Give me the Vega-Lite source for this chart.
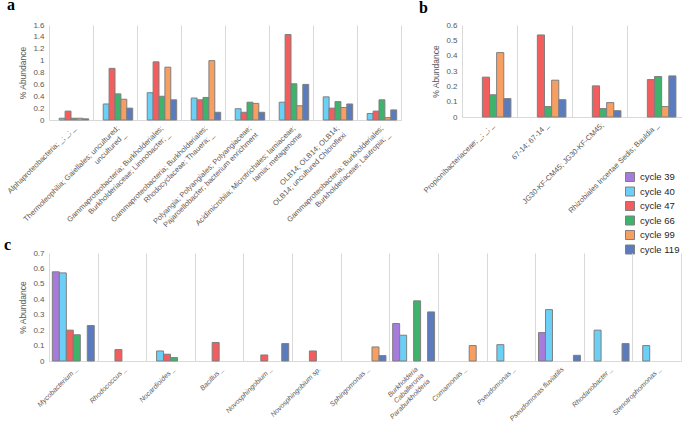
{
  "$schema": "https://vega.github.io/schema/vega-lite/v6.json",
  "padding": {"left": 4, "top": -3, "right": 0, "bottom": 0},
  "bounds": "flush",
  "spacing": 228,
  "resolve": {"scale": {"color": "independent", "xOffset": "independent"}, "legend": {"color": "independent"}},
  "config": {
    "font": "Liberation Sans",
    "view": {"stroke": null},
    "axis": {"labelColor": "#595959", "labelFontSize": 7.5, "titleColor": "#595959", "titleFontSize": 8.5, "titleFontWeight": "normal", "labelFont": "Liberation Sans", "titleFont": "Liberation Sans"},
    "axisX": {"domainColor": "#d9d9d9", "gridColor": "#d9d9d9", "grid": true, "ticks": false, "tickBand": "extent", "labelAngle": -45, "labelAlign": "right", "labelBaseline": "top", "labelLimit": 400, "labelOverlap": false, "labelPadding": 4, "labelLineHeight": 9.5, "title": null},
    "axisY": {"domain": false, "ticks": false, "grid": false, "labelPadding": 5, "titlePadding": 5, "labelFontSize": 8}
  },
  "datasets": {
    "a": [
      {"cat": "Alphaproteobacteria; _; _; _", "cycle": "cycle 40", "v": 0.03},
      {"cat": "Alphaproteobacteria; _; _; _", "cycle": "cycle 47", "v": 0.15},
      {"cat": "Alphaproteobacteria; _; _; _", "cycle": "cycle 66", "v": 0.03},
      {"cat": "Alphaproteobacteria; _; _; _", "cycle": "cycle 99", "v": 0.03},
      {"cat": "Alphaproteobacteria; _; _; _", "cycle": "cycle 119", "v": 0.02},
      {"cat": "Thermoleophilia; Gaiellales; uncultured;|uncultured _", "cycle": "cycle 40", "v": 0.27},
      {"cat": "Thermoleophilia; Gaiellales; uncultured;|uncultured _", "cycle": "cycle 47", "v": 0.87},
      {"cat": "Thermoleophilia; Gaiellales; uncultured;|uncultured _", "cycle": "cycle 66", "v": 0.44},
      {"cat": "Thermoleophilia; Gaiellales; uncultured;|uncultured _", "cycle": "cycle 99", "v": 0.35},
      {"cat": "Thermoleophilia; Gaiellales; uncultured;|uncultured _", "cycle": "cycle 119", "v": 0.20},
      {"cat": "Gammaproteobacteria; Burkholderiales;|Burkholderiaceae; Limnobacter; _", "cycle": "cycle 40", "v": 0.46},
      {"cat": "Gammaproteobacteria; Burkholderiales;|Burkholderiaceae; Limnobacter; _", "cycle": "cycle 47", "v": 0.98},
      {"cat": "Gammaproteobacteria; Burkholderiales;|Burkholderiaceae; Limnobacter; _", "cycle": "cycle 66", "v": 0.40},
      {"cat": "Gammaproteobacteria; Burkholderiales;|Burkholderiaceae; Limnobacter; _", "cycle": "cycle 99", "v": 0.89},
      {"cat": "Gammaproteobacteria; Burkholderiales;|Burkholderiaceae; Limnobacter; _", "cycle": "cycle 119", "v": 0.34},
      {"cat": "Gammaproteobacteria; Burkholderiales;|Rhodocyclaceae; Thauera; _", "cycle": "cycle 40", "v": 0.37},
      {"cat": "Gammaproteobacteria; Burkholderiales;|Rhodocyclaceae; Thauera; _", "cycle": "cycle 47", "v": 0.34},
      {"cat": "Gammaproteobacteria; Burkholderiales;|Rhodocyclaceae; Thauera; _", "cycle": "cycle 66", "v": 0.38},
      {"cat": "Gammaproteobacteria; Burkholderiales;|Rhodocyclaceae; Thauera; _", "cycle": "cycle 99", "v": 1.0},
      {"cat": "Gammaproteobacteria; Burkholderiales;|Rhodocyclaceae; Thauera; _", "cycle": "cycle 119", "v": 0.13},
      {"cat": "Polyangia; Polyangiales; Polyangiaceae;|Pajaroellobacter; bacterium enrichment", "cycle": "cycle 40", "v": 0.19},
      {"cat": "Polyangia; Polyangiales; Polyangiaceae;|Pajaroellobacter; bacterium enrichment", "cycle": "cycle 47", "v": 0.13},
      {"cat": "Polyangia; Polyangiales; Polyangiaceae;|Pajaroellobacter; bacterium enrichment", "cycle": "cycle 66", "v": 0.30},
      {"cat": "Polyangia; Polyangiales; Polyangiaceae;|Pajaroellobacter; bacterium enrichment", "cycle": "cycle 99", "v": 0.28},
      {"cat": "Polyangia; Polyangiales; Polyangiaceae;|Pajaroellobacter; bacterium enrichment", "cycle": "cycle 119", "v": 0.13},
      {"cat": "Acidimicrobiia; Microtrichales; Iamiaceae;|Iamia; metagenome", "cycle": "cycle 40", "v": 0.30},
      {"cat": "Acidimicrobiia; Microtrichales; Iamiaceae;|Iamia; metagenome", "cycle": "cycle 47", "v": 1.44},
      {"cat": "Acidimicrobiia; Microtrichales; Iamiaceae;|Iamia; metagenome", "cycle": "cycle 66", "v": 0.61},
      {"cat": "Acidimicrobiia; Microtrichales; Iamiaceae;|Iamia; metagenome", "cycle": "cycle 99", "v": 0.24},
      {"cat": "Acidimicrobiia; Microtrichales; Iamiaceae;|Iamia; metagenome", "cycle": "cycle 119", "v": 0.60},
      {"cat": "OLB14; OLB14; OLB14;|OLB14; uncultured Chloroflexi", "cycle": "cycle 40", "v": 0.39},
      {"cat": "OLB14; OLB14; OLB14;|OLB14; uncultured Chloroflexi", "cycle": "cycle 47", "v": 0.20},
      {"cat": "OLB14; OLB14; OLB14;|OLB14; uncultured Chloroflexi", "cycle": "cycle 66", "v": 0.31},
      {"cat": "OLB14; OLB14; OLB14;|OLB14; uncultured Chloroflexi", "cycle": "cycle 99", "v": 0.21},
      {"cat": "OLB14; OLB14; OLB14;|OLB14; uncultured Chloroflexi", "cycle": "cycle 119", "v": 0.27},
      {"cat": "Gammaproteobacteria; Burkholderiales;|Burkholderiaceae; Lautropia; _", "cycle": "cycle 40", "v": 0.11},
      {"cat": "Gammaproteobacteria; Burkholderiales;|Burkholderiaceae; Lautropia; _", "cycle": "cycle 47", "v": 0.15},
      {"cat": "Gammaproteobacteria; Burkholderiales;|Burkholderiaceae; Lautropia; _", "cycle": "cycle 66", "v": 0.34},
      {"cat": "Gammaproteobacteria; Burkholderiales;|Burkholderiaceae; Lautropia; _", "cycle": "cycle 99", "v": 0.04},
      {"cat": "Gammaproteobacteria; Burkholderiales;|Burkholderiaceae; Lautropia; _", "cycle": "cycle 119", "v": 0.17}
    ],
    "b": [
      {"cat": "Propionibacteriaceae; _; _; _", "cycle": "cycle 47", "v": 0.26},
      {"cat": "Propionibacteriaceae; _; _; _", "cycle": "cycle 66", "v": 0.145},
      {"cat": "Propionibacteriaceae; _; _; _", "cycle": "cycle 99", "v": 0.42},
      {"cat": "Propionibacteriaceae; _; _; _", "cycle": "cycle 119", "v": 0.12},
      {"cat": "67-14; 67-14 _", "cycle": "cycle 47", "v": 0.535},
      {"cat": "67-14; 67-14 _", "cycle": "cycle 66", "v": 0.068},
      {"cat": "67-14; 67-14 _", "cycle": "cycle 99", "v": 0.24},
      {"cat": "67-14; 67-14 _", "cycle": "cycle 119", "v": 0.113},
      {"cat": "JG30-KF-CM45; JG30-KF-CM45;", "cycle": "cycle 47", "v": 0.203},
      {"cat": "JG30-KF-CM45; JG30-KF-CM45;", "cycle": "cycle 66", "v": 0.055},
      {"cat": "JG30-KF-CM45; JG30-KF-CM45;", "cycle": "cycle 99", "v": 0.094},
      {"cat": "JG30-KF-CM45; JG30-KF-CM45;", "cycle": "cycle 119", "v": 0.041},
      {"cat": "Rhizobiales Incertae Sedis; Bauldia _", "cycle": "cycle 47", "v": 0.244},
      {"cat": "Rhizobiales Incertae Sedis; Bauldia _", "cycle": "cycle 66", "v": 0.264},
      {"cat": "Rhizobiales Incertae Sedis; Bauldia _", "cycle": "cycle 99", "v": 0.068},
      {"cat": "Rhizobiales Incertae Sedis; Bauldia _", "cycle": "cycle 119", "v": 0.268}
    ],
    "c": [
      {"cat": "Mycobacterium _", "cycle": "cycle 39", "v": 0.578},
      {"cat": "Mycobacterium _", "cycle": "cycle 40", "v": 0.571},
      {"cat": "Mycobacterium _", "cycle": "cycle 47", "v": 0.20},
      {"cat": "Mycobacterium _", "cycle": "cycle 66", "v": 0.17},
      {"cat": "Mycobacterium _", "cycle": "cycle 119", "v": 0.23},
      {"cat": "Rhodococcus _", "cycle": "cycle 47", "v": 0.074},
      {"cat": "Nocardioides _", "cycle": "cycle 40", "v": 0.065},
      {"cat": "Nocardioides _", "cycle": "cycle 47", "v": 0.044},
      {"cat": "Nocardioides _", "cycle": "cycle 66", "v": 0.022},
      {"cat": "Bacillus _", "cycle": "cycle 47", "v": 0.12},
      {"cat": "Novosphingobium _", "cycle": "cycle 47", "v": 0.039},
      {"cat": "Novosphingobium _", "cycle": "cycle 119", "v": 0.113},
      {"cat": "Novosphingobium sp.", "cycle": "cycle 47", "v": 0.065},
      {"cat": "Sphingomonas _", "cycle": "cycle 99", "v": 0.091},
      {"cat": "Sphingomonas _", "cycle": "cycle 119", "v": 0.035},
      {"cat": "Burkholderia|Caballeronia|Paraburkholderia", "cycle": "cycle 39", "v": 0.243},
      {"cat": "Burkholderia|Caballeronia|Paraburkholderia", "cycle": "cycle 40", "v": 0.167},
      {"cat": "Burkholderia|Caballeronia|Paraburkholderia", "cycle": "cycle 66", "v": 0.39},
      {"cat": "Burkholderia|Caballeronia|Paraburkholderia", "cycle": "cycle 119", "v": 0.318},
      {"cat": "Comamonas _", "cycle": "cycle 99", "v": 0.10},
      {"cat": "Pseudomonas _", "cycle": "cycle 40", "v": 0.106},
      {"cat": "Pseudomonas fluviatilis", "cycle": "cycle 39", "v": 0.184},
      {"cat": "Pseudomonas fluviatilis", "cycle": "cycle 40", "v": 0.333},
      {"cat": "Pseudomonas fluviatilis", "cycle": "cycle 119", "v": 0.037},
      {"cat": "Rhodanobacter _", "cycle": "cycle 40", "v": 0.20},
      {"cat": "Rhodanobacter _", "cycle": "cycle 119", "v": 0.113},
      {"cat": "Stenotrophomonas _", "cycle": "cycle 40", "v": 0.10}
    ]
  },
  "vconcat": [
    {
      "bounds": "flush",
      "spacing": 61,
      "resolve": {"scale": {"xOffset": "independent", "y": "independent", "color": "independent"}, "legend": {"color": "independent"}},
      "hconcat": [
        {
          "width": 352,
          "height": 95,
          "title": {"text": "a", "anchor": "start", "frame": "group", "font": "Liberation Serif", "fontSize": 16, "fontWeight": "bold", "color": "#000000", "dx": -42, "offset": -5, "baseline": "alphabetic"},
          "data": {"name": "a"},
          "mark": {"type": "bar", "stroke": "#7f7f7f", "strokeWidth": 1},
          "encoding": {
            "x": {"field": "cat", "type": "nominal", "sort": null, "scale": {"paddingInner": 0, "paddingOuter": 0}, "axis": {"labelExpr": "split(datum.label, '|')"}},
            "xOffset": {"field": "cycle", "type": "nominal", "scale": {"domain": ["cycle 39", "cycle 40", "cycle 47", "cycle 66", "cycle 99", "cycle 119"], "paddingInner": 0, "paddingOuter": 0.73}},
            "y": {"field": "v", "type": "quantitative", "scale": {"domain": [0, 1.6]}, "axis": {"title": "% Abundance", "values": [0, 0.2, 0.4, 0.6, 0.8, 1, 1.2, 1.4, 1.6], "format": "~g"}},
            "color": {"field": "cycle", "type": "nominal", "scale": {"domain": ["cycle 39", "cycle 40", "cycle 47", "cycle 66", "cycle 99", "cycle 119"], "range": ["#a77bdc", "#6ccff6", "#f25d5d", "#3db36b", "#f79f62", "#5b7bbf"]}, "legend": null}
          }
        },
        {
          "width": 220,
          "height": 92,
          "title": {"text": "b", "anchor": "start", "frame": "group", "font": "Liberation Serif", "fontSize": 16, "fontWeight": "bold", "color": "#000000", "dx": -43, "offset": -8, "baseline": "alphabetic"},
          "data": {"name": "b"},
          "mark": {"type": "bar", "stroke": "#7f7f7f", "strokeWidth": 1},
          "encoding": {
            "x": {"field": "cat", "type": "nominal", "sort": null, "scale": {"paddingInner": 0, "paddingOuter": 0}, "axis": {"labelExpr": "split(datum.label, '|')"}},
            "xOffset": {"field": "cycle", "type": "nominal", "scale": {"domain": ["cycle 39", "cycle 40", "cycle 47", "cycle 66", "cycle 99", "cycle 119"], "paddingInner": 0, "paddingOuter": 0.85}},
            "y": {"field": "v", "type": "quantitative", "scale": {"domain": [0, 0.6]}, "axis": {"title": "% Abundance", "values": [0, 0.1, 0.2, 0.3, 0.4, 0.5, 0.6], "format": "~g"}},
            "color": {"field": "cycle", "type": "nominal", "scale": {"domain": ["cycle 39", "cycle 40", "cycle 47", "cycle 66", "cycle 99", "cycle 119"], "range": ["#a77bdc", "#6ccff6", "#f25d5d", "#3db36b", "#f79f62", "#5b7bbf"]},
              "legend": {"orient": "none", "legendX": 163, "legendY": 147, "title": null, "symbolType": "square", "symbolSize": 81, "symbolStrokeColor": "#7f7f7f", "symbolStrokeWidth": 1, "labelFontSize": 9.5, "labelColor": "#262626", "labelFont": "Liberation Sans", "rowPadding": 0.5, "labelOffset": 5, "padding": 0}}
          }
        }
      ]
    },
    {
      "width": 632,
      "height": 108,
      "title": {"text": "c", "anchor": "start", "frame": "group", "font": "Liberation Serif", "fontSize": 16, "fontWeight": "bold", "color": "#000000", "dx": -45, "offset": -17, "baseline": "alphabetic"},
      "data": {"name": "c"},
      "mark": {"type": "bar", "stroke": "#7f7f7f", "strokeWidth": 1},
      "encoding": {
        "x": {"field": "cat", "type": "nominal", "sort": null, "scale": {"paddingInner": 0, "paddingOuter": 0}, "axis": {"labelExpr": "split(datum.label, '|')", "labelFontStyle": "italic", "labelFontSize": 7, "labelLineHeight": 8.5}},
        "xOffset": {"field": "cycle", "type": "nominal", "scale": {"domain": ["cycle 39", "cycle 40", "cycle 47", "cycle 66", "cycle 99", "cycle 119"], "paddingInner": 0, "paddingOuter": 0.48}},
        "y": {"field": "v", "type": "quantitative", "scale": {"domain": [0, 0.7]}, "axis": {"title": "% Abundance", "values": [0, 0.1, 0.2, 0.3, 0.4, 0.5, 0.6, 0.7], "format": "~g"}},
        "color": {"field": "cycle", "type": "nominal", "scale": {"domain": ["cycle 39", "cycle 40", "cycle 47", "cycle 66", "cycle 99", "cycle 119"], "range": ["#a77bdc", "#6ccff6", "#f25d5d", "#3db36b", "#f79f62", "#5b7bbf"]}, "legend": null}
      }
    }
  ]
}
